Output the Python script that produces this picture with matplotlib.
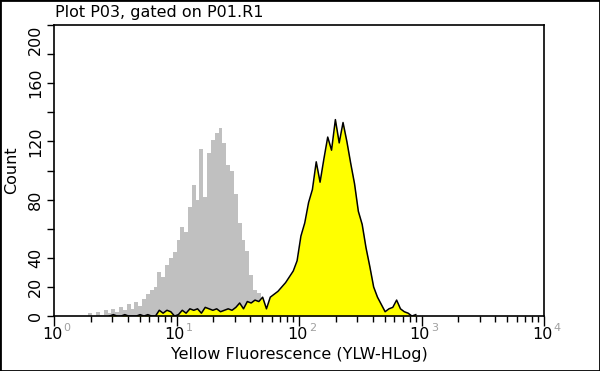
import numpy as np
import matplotlib.pyplot as plt
from matplotlib.patches import Rectangle

# histogram channels: 128 bins over 4 decades (1 .. 1e4)
n_bins = 128
edges = np.logspace(0, 4, n_bins + 1)

# gray (control) histogram, bins 9..54
gray_start = 9
gray_counts = [2, 0, 3, 1, 4, 2, 5, 3, 6, 4, 8, 5, 10, 7, 12, 15, 18, 20, 30, 27,
               35, 40, 44, 52, 61, 58, 75, 90, 80, 115, 82, 112, 121, 126, 129, 119,
               104, 100, 84, 64, 52, 45, 28, 18, 16, 5]

# yellow (stained) histogram, bins 14..94
yellow_start = 14
yellow_counts = [0, 1, 0, 0, 1, 0, 0, 0, 1, 0, 1, 0, 0, 4, 2, 4, 3, 0, 1, 4,
                 2, 5, 4, 5, 2, 6, 5, 4, 5, 3, 4, 5, 4, 6, 9, 5, 10, 9, 11, 10,
                 13, 5, 13, 15, 17, 20, 23, 27, 31, 38, 55, 64, 78, 87, 106, 92, 108, 123, 114, 135,
                 119, 133, 120, 105, 91, 72, 63, 47, 34, 20, 13, 8, 3, 5, 6, 11, 5, 3, 2, 0,
                 1]

y_ticks = [0, 20, 40, 60, 80, 100, 120, 140, 160, 180, 200]
y_labels = ['0', '20', '40', '', '80', '', '120', '', '160', '', '200']
decades = [0, 1, 2, 3, 4]

gray = np.zeros(n_bins)
gray[gray_start:gray_start + len(gray_counts)] = gray_counts
yellow = np.zeros(n_bins)
yellow[yellow_start:yellow_start + len(yellow_counts)] = yellow_counts
centers = np.sqrt(edges[:-1] * edges[1:])
ysel = slice(yellow_start, yellow_start + len(yellow_counts))

fs = 11.5

fig = plt.figure(figsize=(6, 3.71), dpi=100)
ax = fig.add_axes([0.09, 0.148, 0.8167, 0.7846])

ax.stairs(gray, edges, fill=True, color='#c0c0c0', linewidth=0)
ax.fill_between(centers[ysel], yellow[ysel], color='#ffff00', linewidth=0)
ax.plot(centers[ysel], yellow[ysel], color='black', linewidth=1.1)

ax.set_xscale('log')
ax.set_xlim(1, 1e4)
ax.set_ylim(0, 200)

ax.set_yticks(y_ticks)
ax.set_yticklabels(y_labels, rotation=90, va='center', fontsize=fs)
ax.get_yticklabels()[-1].set_va('top')
ax.tick_params(axis='y', length=5, width=1, pad=3)
ax.tick_params(axis='x', which='major', length=7, width=1, labelbottom=False)
ax.tick_params(axis='x', which='minor', length=4, width=1)
ax.set_xticks([10.0 ** k for k in decades])

for k in decades:
    ax.annotate('10', xy=(10.0 ** k, 0), xycoords=('data', 'axes fraction'),
                xytext=(6, -13), textcoords='offset points',
                ha='right', va='center', fontsize=fs)
    ax.annotate(str(k), xy=(10.0 ** k, 0), xycoords=('data', 'axes fraction'),
                xytext=(7, -8.5), textcoords='offset points',
                ha='left', va='center', fontsize=8, color='#a0a0a0')

for s in ax.spines.values():
    s.set_linewidth(1.2)

ax.set_xlabel('Yellow Fluorescence (YLW-HLog)', fontsize=fs, labelpad=15)
ax.set_ylabel('Count', fontsize=fs, labelpad=6)
fig.text(0.092, 0.967, 'Plot P03, gated on P01.R1', fontsize=fs, ha='left', va='center')

fig.patches.append(Rectangle((0, 0), 1, 1, transform=fig.transFigure,
                             fill=False, edgecolor='black', linewidth=2))

fig.savefig('out.png', dpi=100)
